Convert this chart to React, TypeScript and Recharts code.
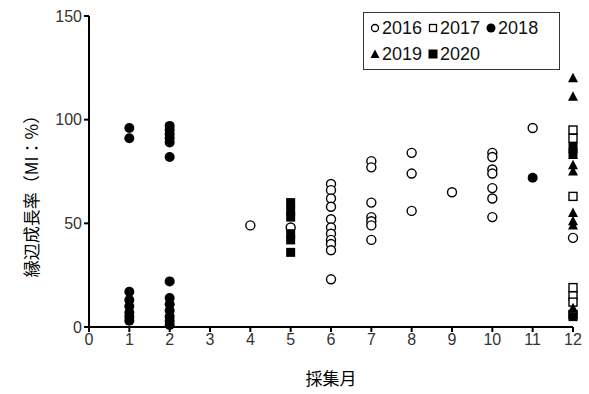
import React from 'react';
import { ScatterChart, Scatter, XAxis, YAxis } from 'recharts';

// month -> values per year series
const s2016: [number, number[]][] = [
  [4, [49]],
  [5, [48]],
  [6, [69, 66, 62, 58, 52, 48, 45, 42, 40, 37, 23]],
  [7, [80, 77, 60, 53, 51, 49, 42]],
  [8, [84, 74, 56]],
  [9, [65]],
  [10, [84, 82, 76, 74, 67, 62, 53]],
  [11, [96]],
  [12, [43]],
];
const s2017: [number, number[]][] = [[12, [95, 91, 63, 19, 15, 12, 6]]];
const s2018: [number, number[]][] = [
  [1, [96, 91, 17, 13, 10, 7, 5, 3]],
  [2, [97, 95, 93, 91, 89, 82, 22, 14, 11, 8, 5, 3, 1]],
  [11, [72]],
];
const s2019: [number, number[]][] = [[12, [120, 111, 86, 83, 78, 75, 55, 51, 49, 9]]];
const s2020: [number, number[]][] = [
  [5, [60, 56, 53, 45, 42, 36]],
  [12, [87, 84, 5]],
];

const xTicks = [0, 1, 2, 3, 4, 5, 6, 7, 8, 9, 10, 11, 12];
const yTicks = [0, 50, 100, 150];
const xTitle = '採集月';
const yTitle = '縁辺成長率（MI：%）';
const legendRow1 = ['2016', '2017', '2018'];
const legendRow2 = ['2019', '2020'];

const toPoints = (s: [number, number[]][]) =>
  s.flatMap(([m, vals]) => vals.map((v) => ({ x: m, y: v })));

const OpenCircle = (p: any) => (
  <circle cx={p.cx} cy={p.cy} r={4.5} fill="#fff" stroke="#000" strokeWidth={1.4} />
);
const OpenSquare = (p: any) => (
  <rect x={p.cx - 4} y={p.cy - 4} width={8} height={8} fill="#fff" stroke="#000" strokeWidth={1.4} />
);
const FilledCircle = (p: any) => <circle cx={p.cx} cy={p.cy} r={5} fill="#000" />;
const FilledTri = (p: any) => (
  <polygon points={`${p.cx},${p.cy - 5.5} ${p.cx + 5},${p.cy + 4} ${p.cx - 5},${p.cy + 4}`} fill="#000" />
);
const FilledSquare = (p: any) => (
  <rect x={p.cx - 4.5} y={p.cy - 4.5} width={9} height={9} fill="#000" />
);

const font = '"Liberation Sans", Arial, sans-serif';
const jp = '"Noto Sans CJK JP", sans-serif';

const legendShapes: Record<string, React.ReactNode> = {
  '2016': <circle cx={6} cy={6} r={3.5} fill="#fff" stroke="#000" strokeWidth={1.3} />,
  '2017': <rect x={2.5} y={2.5} width={7} height={7} fill="#fff" stroke="#000" strokeWidth={1.3} />,
  '2018': <circle cx={6} cy={6} r={4.5} fill="#000" />,
  '2019': <polygon points="6,1.5 10.5,10 1.5,10" fill="#000" />,
  '2020': <rect x={1.5} y={1.5} width={9} height={9} fill="#000" />,
};

const LegendBox = () => {
  const item = (label: string) => (
    <span key={label} style={{ display: 'inline-flex', alignItems: 'center', marginRight: 5 }}>
      <svg width={12} height={12} style={{ marginRight: 1 }}>
        {legendShapes[label]}
      </svg>
      {label}
    </span>
  );
  return (
    <div
      style={{
        position: 'absolute',
        left: 363,
        top: 12,
        border: '1.5px solid #333',
        width: 197,
        height: 58,
        boxSizing: 'border-box',
        padding: '2px 0 0 5px',
        fontFamily: font,
        fontSize: 18,
        lineHeight: '26px',
        color: '#111',
        background: '#fff',
        whiteSpace: 'nowrap',
      }}
    >
      <div>{legendRow1.map(item)}</div>
      <div>{legendRow2.map(item)}</div>
    </div>
  );
};

const YLabel = () => (
  <text
    x={30}
    y={192}
    transform="rotate(-90 30 192)"
    textAnchor="middle"
    dominantBaseline="central"
    fontFamily={jp}
    fontSize={17}
    fill="#000"
  >
    {yTitle}
  </text>
);

export default function App() {
  return (
    <div style={{ position: 'absolute', left: 0, top: 0, width: 589, height: 394, background: '#fff' }}>
      <ScatterChart width={589} height={394} margin={{ top: 16, right: 16, bottom: 5, left: 0 }}>
        <XAxis
          type="number"
          dataKey="x"
          domain={[0, 12]}
          ticks={xTicks}
          interval={0}
          height={62}
          stroke="#000"
          strokeWidth={2}
          axisLine={{ stroke: '#000', strokeWidth: 2 }}
          tickLine={{ stroke: '#000', strokeWidth: 2 }}
          tickSize={5}
          tick={{ fill: '#333', fontSize: 16, fontFamily: font, stroke: 'none' }}
          label={{ value: xTitle, position: 'insideBottom', offset: 4, fill: '#000', fontSize: 17, fontFamily: jp }}
        />
        <YAxis
          type="number"
          dataKey="y"
          domain={[0, 150]}
          ticks={yTicks}
          interval={0}
          width={89}
          stroke="#000"
          strokeWidth={2}
          axisLine={{ stroke: '#000', strokeWidth: 2 }}
          tickLine={{ stroke: '#000', strokeWidth: 2 }}
          tickSize={5}
          tick={{ fill: '#333', fontSize: 16, fontFamily: font, stroke: 'none' }}
          label={<YLabel />}
        />
        <Scatter name="2016" data={toPoints(s2016)} shape={<OpenCircle />} isAnimationActive={false} />
        <Scatter name="2017" data={toPoints(s2017)} shape={<OpenSquare />} isAnimationActive={false} />
        <Scatter name="2018" data={toPoints(s2018)} shape={<FilledCircle />} isAnimationActive={false} />
        <Scatter name="2019" data={toPoints(s2019)} shape={<FilledTri />} isAnimationActive={false} />
        <Scatter name="2020" data={toPoints(s2020)} shape={<FilledSquare />} isAnimationActive={false} />
      </ScatterChart>
      <LegendBox />
    </div>
  );
}
